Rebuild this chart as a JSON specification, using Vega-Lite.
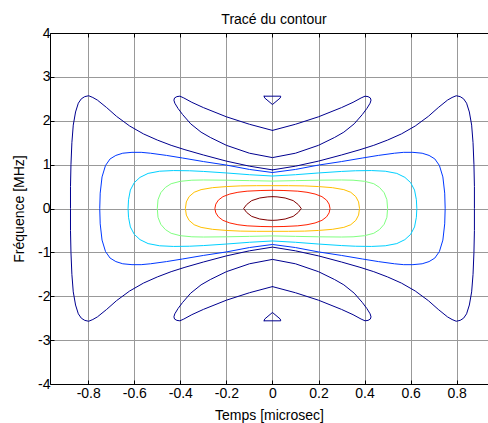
{
"$schema": "https://vega.github.io/schema/vega-lite/v6.json",
"autosize": {"type": "none"},
"padding": {"left": 50, "top": 33, "right": 0, "bottom": 39},
"width": 438,
"height": 351,
"title": {"text": "Tracé du contour", "fontSize": 14, "fontWeight": "normal", "font": "Liberation Sans", "color": "#000", "anchor": "middle", "baseline": "alphabetic", "offset": 9.5, "dx": 5, "dy": 21.5},
"config": {
 "font": "Liberation Sans",
 "view": {"stroke": null},
 "axis": {"domainColor": "#000", "domainWidth": 1, "tickColor": "#000", "tickSize": -4, "labelFont": "Liberation Sans", "labelFontSize": 14, "labelColor": "#000", "titleFont": "Liberation Sans", "titleFontSize": 14, "titleFontWeight": "normal", "titleColor": "#000", "gridColor": "#999", "gridOpacity": 1, "gridWidth": 1, "labelFlush": false, "labelOverlap": false}
},
"data": {"values": [
{"k":"a","l":1,"t":0,"f":0.88},{"k":"a","l":1,"t":-0.1,"f":0.965},{"k":"a","l":1,"t":-0.2,"f":1.08},{"k":"a","l":1,"t":-0.3,"f":1.22},{"k":"a","l":1,"t":-0.38,"f":1.34},{"k":"a","l":1,"t":-0.44,"f":1.44},{"k":"a","l":1,"t":-0.5,"f":1.56},{"k":"a","l":1,"t":-0.56,"f":1.7},{"k":"a","l":1,"t":-0.62,"f":1.88},{"k":"a","l":1,"t":-0.677,"f":2.1},{"k":"a","l":1,"t":-0.72,"f":2.3},{"k":"a","l":1,"t":-0.76,"f":2.47},{"k":"a","l":1,"t":-0.78,"f":2.53},{"k":"a","l":1,"t":-0.798,"f":2.57},{"k":"a","l":1,"t":-0.815,"f":2.55},{"k":"a","l":1,"t":-0.83,"f":2.5},{"k":"a","l":1,"t":-0.843,"f":2.4},{"k":"a","l":1,"t":-0.855,"f":2.2},{"k":"a","l":1,"t":-0.865,"f":1.9},{"k":"a","l":1,"t":-0.871,"f":1.5},{"k":"a","l":1,"t":-0.875,"f":1},{"k":"a","l":1,"t":-0.877,"f":0.5},{"k":"a","l":1,"t":-0.877,"f":0},
{"k":"a","l":1,"t":-0.877,"f":-0.5},{"k":"a","l":1,"t":-0.875,"f":-1},{"k":"a","l":1,"t":-0.871,"f":-1.5},{"k":"a","l":1,"t":-0.865,"f":-1.9},{"k":"a","l":1,"t":-0.855,"f":-2.2},{"k":"a","l":1,"t":-0.843,"f":-2.4},{"k":"a","l":1,"t":-0.83,"f":-2.5},{"k":"a","l":1,"t":-0.815,"f":-2.55},{"k":"a","l":1,"t":-0.798,"f":-2.57},{"k":"a","l":1,"t":-0.78,"f":-2.53},{"k":"a","l":1,"t":-0.76,"f":-2.47},{"k":"a","l":1,"t":-0.72,"f":-2.3},{"k":"a","l":1,"t":-0.677,"f":-2.1},{"k":"a","l":1,"t":-0.62,"f":-1.88},{"k":"a","l":1,"t":-0.56,"f":-1.7},{"k":"a","l":1,"t":-0.5,"f":-1.56},{"k":"a","l":1,"t":-0.44,"f":-1.44},{"k":"a","l":1,"t":-0.38,"f":-1.34},{"k":"a","l":1,"t":-0.3,"f":-1.22},{"k":"a","l":1,"t":-0.2,"f":-1.08},{"k":"a","l":1,"t":-0.1,"f":-0.965},{"k":"a","l":1,"t":0,"f":-0.88},
{"k":"a","l":1,"t":0.1,"f":-0.965},{"k":"a","l":1,"t":0.2,"f":-1.08},{"k":"a","l":1,"t":0.3,"f":-1.22},{"k":"a","l":1,"t":0.38,"f":-1.34},{"k":"a","l":1,"t":0.44,"f":-1.44},{"k":"a","l":1,"t":0.5,"f":-1.56},{"k":"a","l":1,"t":0.56,"f":-1.7},{"k":"a","l":1,"t":0.62,"f":-1.88},{"k":"a","l":1,"t":0.677,"f":-2.1},{"k":"a","l":1,"t":0.72,"f":-2.3},{"k":"a","l":1,"t":0.76,"f":-2.47},{"k":"a","l":1,"t":0.78,"f":-2.53},{"k":"a","l":1,"t":0.798,"f":-2.57},{"k":"a","l":1,"t":0.815,"f":-2.55},{"k":"a","l":1,"t":0.83,"f":-2.5},{"k":"a","l":1,"t":0.843,"f":-2.4},{"k":"a","l":1,"t":0.855,"f":-2.2},{"k":"a","l":1,"t":0.865,"f":-1.9},{"k":"a","l":1,"t":0.871,"f":-1.5},{"k":"a","l":1,"t":0.875,"f":-1},{"k":"a","l":1,"t":0.877,"f":-0.5},{"k":"a","l":1,"t":0.877,"f":0},
{"k":"a","l":1,"t":0.877,"f":0.5},{"k":"a","l":1,"t":0.875,"f":1},{"k":"a","l":1,"t":0.871,"f":1.5},{"k":"a","l":1,"t":0.865,"f":1.9},{"k":"a","l":1,"t":0.855,"f":2.2},{"k":"a","l":1,"t":0.843,"f":2.4},{"k":"a","l":1,"t":0.83,"f":2.5},{"k":"a","l":1,"t":0.815,"f":2.55},{"k":"a","l":1,"t":0.798,"f":2.57},{"k":"a","l":1,"t":0.78,"f":2.53},{"k":"a","l":1,"t":0.76,"f":2.47},{"k":"a","l":1,"t":0.72,"f":2.3},{"k":"a","l":1,"t":0.677,"f":2.1},{"k":"a","l":1,"t":0.62,"f":1.88},{"k":"a","l":1,"t":0.56,"f":1.7},{"k":"a","l":1,"t":0.5,"f":1.56},{"k":"a","l":1,"t":0.44,"f":1.44},{"k":"a","l":1,"t":0.38,"f":1.34},{"k":"a","l":1,"t":0.3,"f":1.22},{"k":"a","l":1,"t":0.2,"f":1.08},{"k":"a","l":1,"t":0.1,"f":0.965},{"k":"a","l":1,"t":0,"f":0.88},

{"k":"b","l":1,"t":0,"f":1.78},{"k":"b","l":1,"t":-0.1,"f":1.92},{"k":"b","l":1,"t":-0.2,"f":2.09},{"k":"b","l":1,"t":-0.3,"f":2.3},{"k":"b","l":1,"t":-0.35,"f":2.42},{"k":"b","l":1,"t":-0.385,"f":2.52},{"k":"b","l":1,"t":-0.402,"f":2.56},{"k":"b","l":1,"t":-0.415,"f":2.55},{"k":"b","l":1,"t":-0.425,"f":2.52},{"k":"b","l":1,"t":-0.428,"f":2.47},{"k":"b","l":1,"t":-0.424,"f":2.4},{"k":"b","l":1,"t":-0.41,"f":2.28},{"k":"b","l":1,"t":-0.39,"f":2.14},{"k":"b","l":1,"t":-0.355,"f":1.93},{"k":"b","l":1,"t":-0.31,"f":1.74},{"k":"b","l":1,"t":-0.27,"f":1.62},{"k":"b","l":1,"t":-0.2,"f":1.44},{"k":"b","l":1,"t":-0.1,"f":1.26},{"k":"b","l":1,"t":0,"f":1.16},{"k":"b","l":1,"t":0.1,"f":1.26},{"k":"b","l":1,"t":0.2,"f":1.44},{"k":"b","l":1,"t":0.27,"f":1.62},{"k":"b","l":1,"t":0.31,"f":1.74},{"k":"b","l":1,"t":0.355,"f":1.93},{"k":"b","l":1,"t":0.39,"f":2.14},{"k":"b","l":1,"t":0.41,"f":2.28},{"k":"b","l":1,"t":0.424,"f":2.4},{"k":"b","l":1,"t":0.428,"f":2.47},{"k":"b","l":1,"t":0.425,"f":2.52},{"k":"b","l":1,"t":0.415,"f":2.55},{"k":"b","l":1,"t":0.402,"f":2.56},{"k":"b","l":1,"t":0.385,"f":2.52},{"k":"b","l":1,"t":0.35,"f":2.42},{"k":"b","l":1,"t":0.3,"f":2.3},{"k":"b","l":1,"t":0.2,"f":2.09},{"k":"b","l":1,"t":0.1,"f":1.92},{"k":"b","l":1,"t":0,"f":1.78},

{"k":"c","l":1,"t":0,"f":-1.78},{"k":"c","l":1,"t":-0.1,"f":-1.92},{"k":"c","l":1,"t":-0.2,"f":-2.09},{"k":"c","l":1,"t":-0.3,"f":-2.3},{"k":"c","l":1,"t":-0.35,"f":-2.42},{"k":"c","l":1,"t":-0.385,"f":-2.52},{"k":"c","l":1,"t":-0.402,"f":-2.56},{"k":"c","l":1,"t":-0.415,"f":-2.55},{"k":"c","l":1,"t":-0.425,"f":-2.52},{"k":"c","l":1,"t":-0.428,"f":-2.47},{"k":"c","l":1,"t":-0.424,"f":-2.4},{"k":"c","l":1,"t":-0.41,"f":-2.28},{"k":"c","l":1,"t":-0.39,"f":-2.14},{"k":"c","l":1,"t":-0.355,"f":-1.93},{"k":"c","l":1,"t":-0.31,"f":-1.74},{"k":"c","l":1,"t":-0.27,"f":-1.62},{"k":"c","l":1,"t":-0.2,"f":-1.44},{"k":"c","l":1,"t":-0.1,"f":-1.26},{"k":"c","l":1,"t":0,"f":-1.16},{"k":"c","l":1,"t":0.1,"f":-1.26},{"k":"c","l":1,"t":0.2,"f":-1.44},{"k":"c","l":1,"t":0.27,"f":-1.62},{"k":"c","l":1,"t":0.31,"f":-1.74},{"k":"c","l":1,"t":0.355,"f":-1.93},{"k":"c","l":1,"t":0.39,"f":-2.14},{"k":"c","l":1,"t":0.41,"f":-2.28},{"k":"c","l":1,"t":0.424,"f":-2.4},{"k":"c","l":1,"t":0.428,"f":-2.47},{"k":"c","l":1,"t":0.425,"f":-2.52},{"k":"c","l":1,"t":0.415,"f":-2.55},{"k":"c","l":1,"t":0.402,"f":-2.56},{"k":"c","l":1,"t":0.385,"f":-2.52},{"k":"c","l":1,"t":0.35,"f":-2.42},{"k":"c","l":1,"t":0.3,"f":-2.3},{"k":"c","l":1,"t":0.2,"f":-2.09},{"k":"c","l":1,"t":0.1,"f":-1.92},{"k":"c","l":1,"t":0,"f":-1.78},

{"k":"d","l":1,"t":-0.036,"f":2.56},{"k":"d","l":1,"t":0.036,"f":2.56},{"k":"d","l":1,"t":0.034,"f":2.52},{"k":"d","l":1,"t":0,"f":2.37},{"k":"d","l":1,"t":-0.034,"f":2.52},{"k":"d","l":1,"t":-0.036,"f":2.56},
{"k":"e","l":1,"t":-0.036,"f":-2.56},{"k":"e","l":1,"t":0.036,"f":-2.56},{"k":"e","l":1,"t":0.034,"f":-2.52},{"k":"e","l":1,"t":0,"f":-2.37},{"k":"e","l":1,"t":-0.034,"f":-2.52},{"k":"e","l":1,"t":-0.036,"f":-2.56},

{"k":"f","l":2,"t":0,"f":0.82},{"k":"f","l":2,"t":-0.1,"f":0.89},{"k":"f","l":2,"t":-0.2,"f":0.99},{"k":"f","l":2,"t":-0.3,"f":1.07},{"k":"f","l":2,"t":-0.39,"f":1.15},{"k":"f","l":2,"t":-0.46,"f":1.21},{"k":"f","l":2,"t":-0.53,"f":1.26},{"k":"f","l":2,"t":-0.57,"f":1.28},{"k":"f","l":2,"t":-0.61,"f":1.28},{"k":"f","l":2,"t":-0.65,"f":1.26},{"k":"f","l":2,"t":-0.68,"f":1.21},{"k":"f","l":2,"t":-0.705,"f":1.13},{"k":"f","l":2,"t":-0.725,"f":0.98},{"k":"f","l":2,"t":-0.74,"f":0.72},{"k":"f","l":2,"t":-0.748,"f":0.35},{"k":"f","l":2,"t":-0.75,"f":0},
{"k":"f","l":2,"t":-0.748,"f":-0.35},{"k":"f","l":2,"t":-0.74,"f":-0.72},{"k":"f","l":2,"t":-0.725,"f":-0.98},{"k":"f","l":2,"t":-0.705,"f":-1.13},{"k":"f","l":2,"t":-0.68,"f":-1.21},{"k":"f","l":2,"t":-0.65,"f":-1.26},{"k":"f","l":2,"t":-0.61,"f":-1.28},{"k":"f","l":2,"t":-0.57,"f":-1.28},{"k":"f","l":2,"t":-0.53,"f":-1.26},{"k":"f","l":2,"t":-0.46,"f":-1.21},{"k":"f","l":2,"t":-0.39,"f":-1.15},{"k":"f","l":2,"t":-0.3,"f":-1.07},{"k":"f","l":2,"t":-0.2,"f":-0.99},{"k":"f","l":2,"t":-0.1,"f":-0.89},{"k":"f","l":2,"t":0,"f":-0.82},
{"k":"f","l":2,"t":0.1,"f":-0.89},{"k":"f","l":2,"t":0.2,"f":-0.99},{"k":"f","l":2,"t":0.3,"f":-1.07},{"k":"f","l":2,"t":0.39,"f":-1.15},{"k":"f","l":2,"t":0.46,"f":-1.21},{"k":"f","l":2,"t":0.53,"f":-1.26},{"k":"f","l":2,"t":0.57,"f":-1.28},{"k":"f","l":2,"t":0.61,"f":-1.28},{"k":"f","l":2,"t":0.65,"f":-1.26},{"k":"f","l":2,"t":0.68,"f":-1.21},{"k":"f","l":2,"t":0.705,"f":-1.13},{"k":"f","l":2,"t":0.725,"f":-0.98},{"k":"f","l":2,"t":0.74,"f":-0.72},{"k":"f","l":2,"t":0.748,"f":-0.35},{"k":"f","l":2,"t":0.75,"f":0},
{"k":"f","l":2,"t":0.748,"f":0.35},{"k":"f","l":2,"t":0.74,"f":0.72},{"k":"f","l":2,"t":0.725,"f":0.98},{"k":"f","l":2,"t":0.705,"f":1.13},{"k":"f","l":2,"t":0.68,"f":1.21},{"k":"f","l":2,"t":0.65,"f":1.26},{"k":"f","l":2,"t":0.61,"f":1.28},{"k":"f","l":2,"t":0.57,"f":1.28},{"k":"f","l":2,"t":0.53,"f":1.26},{"k":"f","l":2,"t":0.46,"f":1.21},{"k":"f","l":2,"t":0.39,"f":1.15},{"k":"f","l":2,"t":0.3,"f":1.07},{"k":"f","l":2,"t":0.2,"f":0.99},{"k":"f","l":2,"t":0.1,"f":0.89},{"k":"f","l":2,"t":0,"f":0.82},

{"k":"g","l":3,"t":0,"f":0.74},{"k":"g","l":3,"t":-0.1,"f":0.77},{"k":"g","l":3,"t":-0.2,"f":0.81},{"k":"g","l":3,"t":-0.3,"f":0.845},{"k":"g","l":3,"t":-0.36,"f":0.86},{"k":"g","l":3,"t":-0.43,"f":0.865},{"k":"g","l":3,"t":-0.49,"f":0.85},{"k":"g","l":3,"t":-0.54,"f":0.8},{"k":"g","l":3,"t":-0.575,"f":0.71},{"k":"g","l":3,"t":-0.6,"f":0.59},{"k":"g","l":3,"t":-0.617,"f":0.42},{"k":"g","l":3,"t":-0.625,"f":0.2},{"k":"g","l":3,"t":-0.627,"f":0},
{"k":"g","l":3,"t":-0.625,"f":-0.2},{"k":"g","l":3,"t":-0.617,"f":-0.42},{"k":"g","l":3,"t":-0.6,"f":-0.59},{"k":"g","l":3,"t":-0.575,"f":-0.71},{"k":"g","l":3,"t":-0.54,"f":-0.8},{"k":"g","l":3,"t":-0.49,"f":-0.85},{"k":"g","l":3,"t":-0.43,"f":-0.865},{"k":"g","l":3,"t":-0.36,"f":-0.86},{"k":"g","l":3,"t":-0.3,"f":-0.845},{"k":"g","l":3,"t":-0.2,"f":-0.81},{"k":"g","l":3,"t":-0.1,"f":-0.77},{"k":"g","l":3,"t":0,"f":-0.74},
{"k":"g","l":3,"t":0.1,"f":-0.77},{"k":"g","l":3,"t":0.2,"f":-0.81},{"k":"g","l":3,"t":0.3,"f":-0.845},{"k":"g","l":3,"t":0.36,"f":-0.86},{"k":"g","l":3,"t":0.43,"f":-0.865},{"k":"g","l":3,"t":0.49,"f":-0.85},{"k":"g","l":3,"t":0.54,"f":-0.8},{"k":"g","l":3,"t":0.575,"f":-0.71},{"k":"g","l":3,"t":0.6,"f":-0.59},{"k":"g","l":3,"t":0.617,"f":-0.42},{"k":"g","l":3,"t":0.625,"f":-0.2},{"k":"g","l":3,"t":0.627,"f":0},
{"k":"g","l":3,"t":0.625,"f":0.2},{"k":"g","l":3,"t":0.617,"f":0.42},{"k":"g","l":3,"t":0.6,"f":0.59},{"k":"g","l":3,"t":0.575,"f":0.71},{"k":"g","l":3,"t":0.54,"f":0.8},{"k":"g","l":3,"t":0.49,"f":0.85},{"k":"g","l":3,"t":0.43,"f":0.865},{"k":"g","l":3,"t":0.36,"f":0.86},{"k":"g","l":3,"t":0.3,"f":0.845},{"k":"g","l":3,"t":0.2,"f":0.81},{"k":"g","l":3,"t":0.1,"f":0.77},{"k":"g","l":3,"t":0,"f":0.74},

{"k":"h","l":4,"t":0,"f":0.625},{"k":"h","l":4,"t":-0.1,"f":0.635},{"k":"h","l":4,"t":-0.2,"f":0.645},{"k":"h","l":4,"t":-0.3,"f":0.65},{"k":"h","l":4,"t":-0.35,"f":0.645},{"k":"h","l":4,"t":-0.4,"f":0.62},{"k":"h","l":4,"t":-0.44,"f":0.565},{"k":"h","l":4,"t":-0.465,"f":0.48},{"k":"h","l":4,"t":-0.485,"f":0.36},{"k":"h","l":4,"t":-0.497,"f":0.2},{"k":"h","l":4,"t":-0.5,"f":0},
{"k":"h","l":4,"t":-0.497,"f":-0.2},{"k":"h","l":4,"t":-0.485,"f":-0.36},{"k":"h","l":4,"t":-0.465,"f":-0.48},{"k":"h","l":4,"t":-0.44,"f":-0.565},{"k":"h","l":4,"t":-0.4,"f":-0.62},{"k":"h","l":4,"t":-0.35,"f":-0.645},{"k":"h","l":4,"t":-0.3,"f":-0.65},{"k":"h","l":4,"t":-0.2,"f":-0.645},{"k":"h","l":4,"t":-0.1,"f":-0.635},{"k":"h","l":4,"t":0,"f":-0.625},
{"k":"h","l":4,"t":0.1,"f":-0.635},{"k":"h","l":4,"t":0.2,"f":-0.645},{"k":"h","l":4,"t":0.3,"f":-0.65},{"k":"h","l":4,"t":0.35,"f":-0.645},{"k":"h","l":4,"t":0.4,"f":-0.62},{"k":"h","l":4,"t":0.44,"f":-0.565},{"k":"h","l":4,"t":0.465,"f":-0.48},{"k":"h","l":4,"t":0.485,"f":-0.36},{"k":"h","l":4,"t":0.497,"f":-0.2},{"k":"h","l":4,"t":0.5,"f":0},
{"k":"h","l":4,"t":0.497,"f":0.2},{"k":"h","l":4,"t":0.485,"f":0.36},{"k":"h","l":4,"t":0.465,"f":0.48},{"k":"h","l":4,"t":0.44,"f":0.565},{"k":"h","l":4,"t":0.4,"f":0.62},{"k":"h","l":4,"t":0.35,"f":0.645},{"k":"h","l":4,"t":0.3,"f":0.65},{"k":"h","l":4,"t":0.2,"f":0.645},{"k":"h","l":4,"t":0.1,"f":0.635},{"k":"h","l":4,"t":0,"f":0.625},

{"k":"i","l":5,"t":0,"f":0.52},{"k":"i","l":5,"t":-0.07,"f":0.52},{"k":"i","l":5,"t":-0.14,"f":0.515},{"k":"i","l":5,"t":-0.2,"f":0.5},{"k":"i","l":5,"t":-0.26,"f":0.475},{"k":"i","l":5,"t":-0.31,"f":0.43},{"k":"i","l":5,"t":-0.34,"f":0.37},{"k":"i","l":5,"t":-0.362,"f":0.27},{"k":"i","l":5,"t":-0.374,"f":0.15},{"k":"i","l":5,"t":-0.378,"f":0},
{"k":"i","l":5,"t":-0.374,"f":-0.15},{"k":"i","l":5,"t":-0.362,"f":-0.27},{"k":"i","l":5,"t":-0.34,"f":-0.37},{"k":"i","l":5,"t":-0.31,"f":-0.43},{"k":"i","l":5,"t":-0.26,"f":-0.475},{"k":"i","l":5,"t":-0.2,"f":-0.5},{"k":"i","l":5,"t":-0.14,"f":-0.515},{"k":"i","l":5,"t":-0.07,"f":-0.52},{"k":"i","l":5,"t":0,"f":-0.52},
{"k":"i","l":5,"t":0.07,"f":-0.52},{"k":"i","l":5,"t":0.14,"f":-0.515},{"k":"i","l":5,"t":0.2,"f":-0.5},{"k":"i","l":5,"t":0.26,"f":-0.475},{"k":"i","l":5,"t":0.31,"f":-0.43},{"k":"i","l":5,"t":0.34,"f":-0.37},{"k":"i","l":5,"t":0.362,"f":-0.27},{"k":"i","l":5,"t":0.374,"f":-0.15},{"k":"i","l":5,"t":0.378,"f":0},
{"k":"i","l":5,"t":0.374,"f":0.15},{"k":"i","l":5,"t":0.362,"f":0.27},{"k":"i","l":5,"t":0.34,"f":0.37},{"k":"i","l":5,"t":0.31,"f":0.43},{"k":"i","l":5,"t":0.26,"f":0.475},{"k":"i","l":5,"t":0.2,"f":0.5},{"k":"i","l":5,"t":0.14,"f":0.515},{"k":"i","l":5,"t":0.07,"f":0.52},{"k":"i","l":5,"t":0,"f":0.52},

{"k":"j","l":6,"t":0,"f":0.415},{"k":"j","l":6,"t":-0.05,"f":0.41},{"k":"j","l":6,"t":-0.11,"f":0.395},{"k":"j","l":6,"t":-0.15,"f":0.37},{"k":"j","l":6,"t":-0.185,"f":0.33},{"k":"j","l":6,"t":-0.215,"f":0.27},{"k":"j","l":6,"t":-0.235,"f":0.19},{"k":"j","l":6,"t":-0.246,"f":0.1},{"k":"j","l":6,"t":-0.25,"f":0},
{"k":"j","l":6,"t":-0.246,"f":-0.1},{"k":"j","l":6,"t":-0.235,"f":-0.19},{"k":"j","l":6,"t":-0.215,"f":-0.27},{"k":"j","l":6,"t":-0.185,"f":-0.33},{"k":"j","l":6,"t":-0.15,"f":-0.37},{"k":"j","l":6,"t":-0.11,"f":-0.395},{"k":"j","l":6,"t":-0.05,"f":-0.41},{"k":"j","l":6,"t":0,"f":-0.415},
{"k":"j","l":6,"t":0.05,"f":-0.41},{"k":"j","l":6,"t":0.11,"f":-0.395},{"k":"j","l":6,"t":0.15,"f":-0.37},{"k":"j","l":6,"t":0.185,"f":-0.33},{"k":"j","l":6,"t":0.215,"f":-0.27},{"k":"j","l":6,"t":0.235,"f":-0.19},{"k":"j","l":6,"t":0.246,"f":-0.1},{"k":"j","l":6,"t":0.25,"f":0},
{"k":"j","l":6,"t":0.246,"f":0.1},{"k":"j","l":6,"t":0.235,"f":0.19},{"k":"j","l":6,"t":0.215,"f":0.27},{"k":"j","l":6,"t":0.185,"f":0.33},{"k":"j","l":6,"t":0.15,"f":0.37},{"k":"j","l":6,"t":0.11,"f":0.395},{"k":"j","l":6,"t":0.05,"f":0.41},{"k":"j","l":6,"t":0,"f":0.415},

{"k":"m","l":7,"t":0,"f":0.27},{"k":"m","l":7,"t":-0.02,"f":0.265},{"k":"m","l":7,"t":-0.055,"f":0.24},{"k":"m","l":7,"t":-0.09,"f":0.18},{"k":"m","l":7,"t":-0.112,"f":0.09},{"k":"m","l":7,"t":-0.125,"f":0},
{"k":"m","l":7,"t":-0.112,"f":-0.09},{"k":"m","l":7,"t":-0.09,"f":-0.18},{"k":"m","l":7,"t":-0.055,"f":-0.24},{"k":"m","l":7,"t":-0.02,"f":-0.265},{"k":"m","l":7,"t":0,"f":-0.27},
{"k":"m","l":7,"t":0.02,"f":-0.265},{"k":"m","l":7,"t":0.055,"f":-0.24},{"k":"m","l":7,"t":0.09,"f":-0.18},{"k":"m","l":7,"t":0.112,"f":-0.09},{"k":"m","l":7,"t":0.125,"f":0},
{"k":"m","l":7,"t":0.112,"f":0.09},{"k":"m","l":7,"t":0.09,"f":0.18},{"k":"m","l":7,"t":0.055,"f":0.24},{"k":"m","l":7,"t":0.02,"f":0.265},{"k":"m","l":7,"t":0,"f":0.27}
]},
"layer": [
 {
  "mark": {"type": "line", "strokeWidth": 1, "strokeJoin": "round", "strokeCap": "round"},
  "encoding": {
   "x": {"field": "t", "type": "quantitative", "scale": {"domain": [-0.966, 0.936], "nice": false, "zero": false},
         "axis": {"orient": "bottom", "values": [-0.8, -0.6, -0.4, -0.2, 0, 0.2, 0.4, 0.6, 0.8], "labelExpr": "'' + datum.value", "grid": true, "labelPadding": 6, "title": "Temps [microsec]", "titleY": 24.5}},
   "y": {"field": "f", "type": "quantitative", "scale": {"domain": [-4, 4], "nice": false, "zero": false},
         "axis": {"values": [-4, -3, -2, -1, 0, 1, 2, 3, 4], "labelExpr": "'' + datum.value", "grid": true, "labelPadding": 4, "title": "Fréquence [MHz]", "titleX": -24}},
   "detail": {"field": "k"},
   "order": {"value": null},
   "color": {"field": "l", "type": "ordinal", "legend": null,
             "scale": {"domain": [1, 2, 3, 4, 5, 6, 7], "range": ["#00008f", "#0038ff", "#00d0ff", "#80ff80", "#ffc000", "#ff2000", "#800000"]}}
  }
 },
 {
  "mark": {"type": "rule", "opacity": 0},
  "encoding": {
   "x": {"datum": 0, "type": "quantitative",
         "axis": {"orient": "top", "values": [-0.8, -0.6, -0.4, -0.2, 0, 0.2, 0.4, 0.6, 0.8], "labels": false, "title": null, "grid": false}}
  }
 }
],
"resolve": {"axis": {"x": "independent"}}
}
